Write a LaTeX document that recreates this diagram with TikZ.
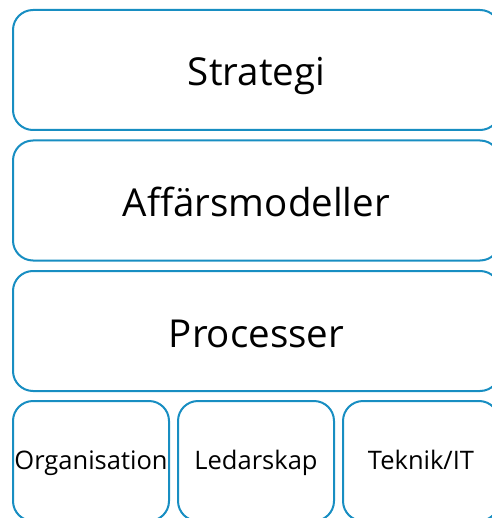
\documentclass[tikz,border=0pt]{standalone}
\usepackage{fontspec}
\setmainfont{Open Sans}
\usetikzlibrary{positioning}
\definecolor{boxblue}{RGB}{24,142,194}

\begin{document}
\begin{tikzpicture}[x=1pt,y=1pt,
  layer/.style={draw=boxblue, line width=2pt, rounded corners=20pt,
    minimum width=487pt, minimum height=120pt, inner sep=0pt, outer sep=0pt,
    text height=32pt, text depth=0pt, font=\fontsize{38.5}{44}\selectfont},
  part/.style={draw=boxblue, line width=2pt, rounded corners=20pt,
    minimum width=156pt, minimum height=120pt, inner sep=0pt, outer sep=0pt,
    text height=16pt, text depth=0pt, font=\fontsize{25.5}{30}\selectfont},
  node distance=10.5pt and 9pt]
  \useasboundingbox (0,0) rectangle (491,-518);
  \node[layer, anchor=north west] (strategi) at (13,-10) {Strategi};
  \node[layer, below=of strategi] (affar) {Affärsmodeller};
  \node[layer, below=of affar] (process) {Processer};

  \node[part, anchor=north west] (org) at (process.south west |- 0,-401) {Organisation};
  \node[part, right=of org] (ledar) {Ledarskap};
  \node[part, right=of ledar] (teknik) {Teknik/IT};
\end{tikzpicture}
\end{document}
